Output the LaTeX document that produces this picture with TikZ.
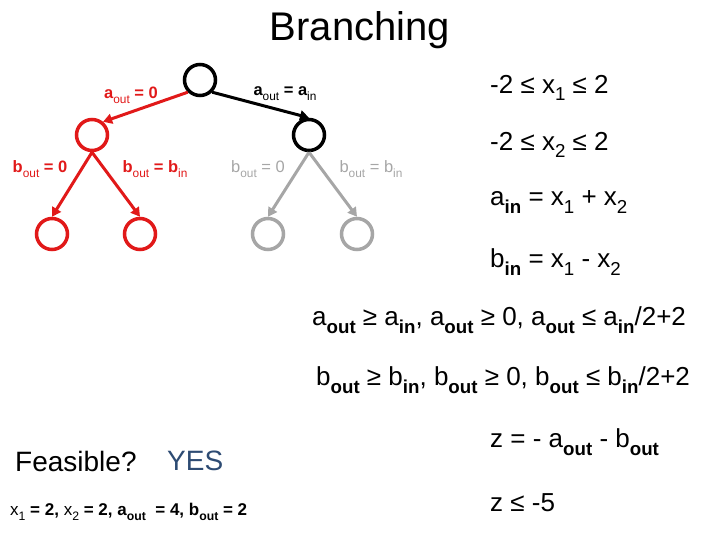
\documentclass[tikz,border=0pt]{standalone}
\usepackage{fontspec}
\setmainfont{Liberation Sans}
\usetikzlibrary{arrows.meta}
\definecolor{myred}{RGB}{225,25,25}
\definecolor{mygray}{RGB}{166,166,166}
\definecolor{yesblue}{RGB}{45,75,115}
\makeatletter
\newcommand\sbo[1]{\raisebox{-0.3em}{\fontsize{\the\dimexpr\f@size pt*72/100\relax}{0pt}\selectfont #1}}
\makeatother
\begin{document}
\begin{tikzpicture}[x=1pt,y=-1pt,
  circ/.style={circle,draw,line width=3.5pt,minimum size=31pt,inner sep=0pt},
  arr/.style={line width=3pt,-{Triangle[length=9pt,width=10pt]}},
  lbl/.style={font=\fontsize{16.5}{18}\selectfont\bfseries, inner sep=0pt},
  glbl/.style={font=\fontsize{16.5}{18}\selectfont, inner sep=0pt, text=mygray},
  eq/.style={font=\fontsize{26}{30}\selectfont, inner sep=0pt, anchor=west}]
\useasboundingbox (0,0) rectangle (720,540);
\node[font=\fontsize{40}{44}\selectfont, inner sep=0pt] (title) at (360,30) {Branching};
\node[circ] (r) at (200,80) {};
\node[circ,myred] (l) at (92,135) {};
\node[circ] (rr) at (309,135) {};
\node[circ,myred] (l1) at (52,234) {};
\node[circ,myred] (l2) at (140,234) {};
\node[circ,mygray] (g1) at (268,234) {};
\node[circ,mygray] (g2) at (357,234) {};
\draw[arr,myred] (r.-135) -- (l.50);
\draw[arr] (r.-45) -- (rr.north);
\draw[arr,myred] (l.south) -- (l1.north);
\draw[arr,myred] (l.south) -- (l2.north);
\draw[arr,mygray] (rr.south) -- (g1.north);
\draw[arr,mygray] (rr.south) -- (g2.north);
\node[lbl,text=myred] (la) at (131,95) {a\sbo{\mdseries out} = 0};
\node[lbl] (ra) at (285,94) {a\sbo{\mdseries out} = a\sbo{\mdseries in}};
\node[lbl,text=myred] (lb1) at (40,169) {b\sbo{\mdseries out} = 0};
\node[lbl,text=myred] (lb2) at (155,169) {b\sbo{\mdseries out} = b\sbo{\mdseries in}};
\node[glbl] (gb1) at (258,169) {b\sbo{out} = 0};
\node[glbl] (gb2) at (371,169) {b\sbo{out} = b\sbo{in}};
\node[eq] (e1) at (490,88) {-2 ≤ x\sbo{1} ≤ 2};
\node[eq] (e2) at (490,145) {-2 ≤ x\sbo{2} ≤ 2};
\node[eq] (e3) at (490,202) {a\sbo{\bfseries in} = x\sbo{1} + x\sbo{2}};
\node[eq] (e4) at (490,262) {b\sbo{\bfseries in} = x\sbo{1} - x\sbo{2}};
\node[eq] (e5) at (312,320) {a\sbo{\bfseries out} ≥ a\sbo{\bfseries in}, a\sbo{\bfseries out} ≥ 0, a\sbo{\bfseries out} ≤ a\sbo{\bfseries in}/2+2};
\node[eq] (e6) at (316,380) {b\sbo{\bfseries out} ≥ b\sbo{\bfseries in}, b\sbo{\bfseries out} ≥ 0, b\sbo{\bfseries out} ≤ b\sbo{\bfseries in}/2+2};
\node[eq] (e7) at (490,442) {z = - a\sbo{\bfseries out} - b\sbo{\bfseries out}};
\node[eq] (e8) at (490,503) {z ≤ -5};
\node[eq,font=\fontsize{28}{32}\selectfont] (fe) at (15,461) {Feasible?};
\node[eq,text=yesblue,font=\fontsize{28}{32}\selectfont] (yes) at (167,461) {YES};
\node[anchor=west,inner sep=0pt,font=\fontsize{17}{20}\selectfont] (sol) at (10,512) {x\sbo{1} \textbf{= 2,} x\sbo{2} \textbf{= 2, a}\sbo{\bfseries out} \textbf{ = 4, b}\sbo{\bfseries out} \textbf{= 2}};
\end{tikzpicture}
\end{document}
